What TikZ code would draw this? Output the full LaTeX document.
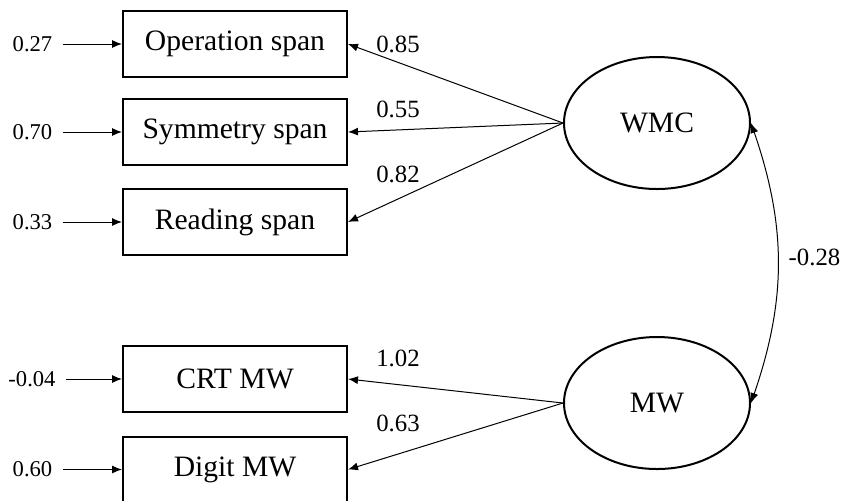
\documentclass[tikz,border=0pt]{standalone}
\usepackage{fontspec}
\setmainfont{Liberation Serif}
\usetikzlibrary{arrows.meta,shapes.geometric}

\begin{document}
\begin{tikzpicture}[x=0.5pt,y=-0.5pt]
\tikzset{indicator/.style = {shape=rectangle,draw,line width=1pt,minimum width=112pt,minimum height=33pt,font=\fontsize{14.8}{17}\selectfont}}
\tikzset{factor/.style = {shape=ellipse,draw,line width=1pt,minimum width=93pt,minimum height=66pt,inner sep=0pt,font=\fontsize{14.8}{17}\selectfont}}
\tikzset{residual/.style = {inner sep=5pt,font=\fontsize{11.3}{13}\selectfont}}
\tikzset{loading/.style = {inner sep=0pt,font=\fontsize{12.4}{14}\selectfont}}
\tikzset{edge/.style = {-{Latex[length=5pt,width=4pt]},line width=0.5pt}}
\useasboundingbox (0,0) rectangle (844,500);
% indicators
\node[indicator] (ospan) at (235,44) {Operation span};
\node[indicator] (sspan) at (235,132) {Symmetry span};
\node[indicator] (rspan) at (235,222) {Reading span};
\node[indicator] (crtmw) at (235,379) {CRT MW};
\node[indicator] (digmw) at (235,469.5) {Digit MW};
% factors
\node[factor] (wmc) at (657,123) {WMC};
\node[factor] (mw) at (657,403) {MW};
% residuals
\node[residual] (r1) at (32.5,44) {0.27};
\node[residual] (r2) at (32.5,132) {0.70};
\node[residual] (r3) at (32.5,222) {0.33};
\node[residual] (r4) at (32,379) {-0.04};
\node[residual] (r5) at (32.5,469.5) {0.60};
% loadings
\node[loading] (l1) at (398,44) {0.85};
\node[loading] (l2) at (398,109) {0.55};
\node[loading] (l3) at (398,174) {0.82};
\node[loading] (l4) at (398,358) {1.02};
\node[loading] (l5) at (398,423) {0.63};
\node[loading] (cov) at (814.5,257) {-0.28};
%edges
\path[edge] (r1) edge (ospan);
\path[edge] (r2) edge (sspan);
\path[edge] (r3) edge (rspan);
\path[edge] (r4) edge (crtmw);
\path[edge] (r5) edge (digmw);

\path[edge] (wmc.west) edge (ospan.east);
\path[edge] (wmc.west) edge (sspan.east);
\path[edge] (wmc.west) edge (rspan.east);
\path[edge] (mw.west) edge (crtmw.east);
\path[edge] (mw.west) edge (digmw.east);
\path[edge,{Latex[length=5pt,width=4pt]}-{Latex[length=5pt,width=4pt]}] (wmc.east) edge[bend left=19] (mw.east);

\end{tikzpicture}
\end{document}
